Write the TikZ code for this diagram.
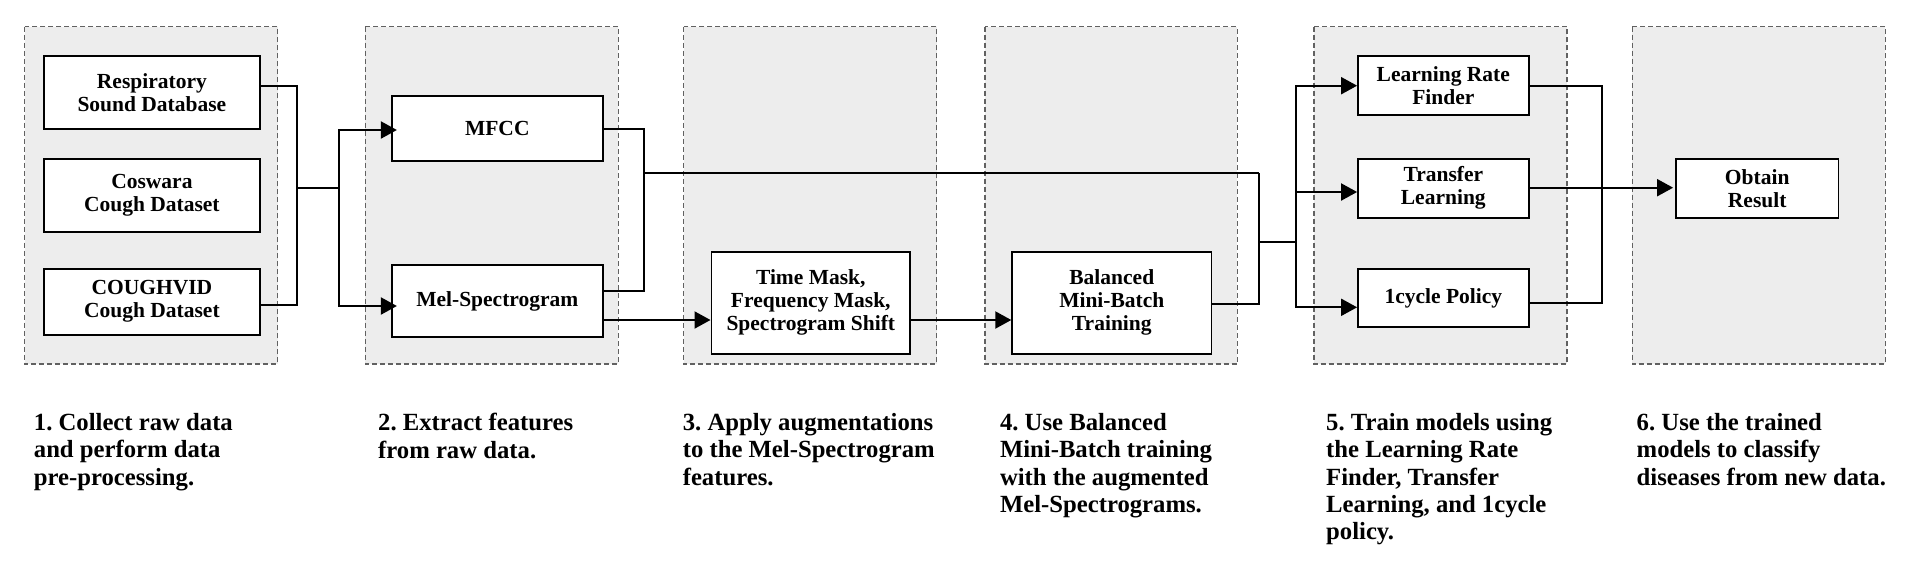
\documentclass[tikz,border=0pt]{standalone}
\usepackage{fontspec}
\setmainfont{Liberation Serif}
\usetikzlibrary{arrows.meta,calc}
\frenchspacing
\begin{document}
\begin{tikzpicture}[x=1pt,y=-1pt,
  panel/.style={draw=black!62, fill=black!7, dash pattern=on 5pt off 3pt, line width=1.2pt},
  box/.style={draw=black, fill=white, line width=1.8pt, font=\fontsize{21.5}{23}\selectfont\bfseries, align=center, inner sep=0pt},
  link/.style={line width=2pt},
  arr/.style={link, -{Triangle[length=16pt,width=17pt]}},
  captxt/.style={anchor=north west, align=left, font=\fontsize{24.7}{27.3}\selectfont\bfseries, inner sep=0pt}]
\useasboundingbox (0,0) rectangle (1920,574);
\fill[white] (0,0) rectangle (1920,574);
% panels
\path[panel] (24.5,26.7) rectangle (277.6,364);
\path[panel] (365.3,26.7) rectangle (618.4,364);
\path[panel] (683.7,26.7) rectangle (936.7,364);
\path[panel] (984.9,26.7) rectangle (1237.1,364);
\path[panel] (1313.9,26.7) rectangle (1566.9,364);
\path[panel] (1632.2,26.7) rectangle (1885.3,364);
% boxes
\node[box, minimum width=216.3pt, minimum height=73.3pt] (resp) at (151.9,92.7) {Respiratory\\Sound Database};
\node[box, minimum width=216.3pt, minimum height=73.3pt] (cosw) at (151.9,195.4) {Coswara\\Cough Dataset};
\node[box, minimum width=216.3pt, minimum height=66pt] (cough) at (151.9,301.7) {COUGHVID\\Cough Dataset};
\node[box, minimum width=211pt, minimum height=65.3pt] (mfcc) at (497.3,128.3) {MFCC};
\node[box, minimum width=211pt, minimum height=71.7pt] (mel) at (497.3,301.2) {Mel-Spectrogram};
\node[box, minimum width=198.8pt, minimum height=102.3pt] (tm) at (810.8,302.8) {Time Mask,\\Frequency Mask,\\Spectrogram Shift};
\node[box, minimum width=199.2pt, minimum height=102.3pt] (bal) at (1111.8,302.8) {Balanced\\Mini-Batch\\Training};
\node[box, minimum width=170.6pt, minimum height=59pt] (lrf) at (1443.3,85.5) {Learning Rate\\Finder};
\node[box, minimum width=170.6pt, minimum height=59pt] (tl) at (1443.3,188.2) {Transfer\\Learning};
\node[box, minimum width=170.6pt, minimum height=58.6pt] (cyc) at (1443.3,298) {1cycle Policy};
\node[box, minimum width=162.4pt, minimum height=59pt] (obt) at (1757.2,188.2) {Obtain\\Result};
% junction coordinates
\coordinate (a1) at (296.7,188.3);
\coordinate (a2) at (338.8,188.3);
\coordinate (b1) at (644,173.3);
\coordinate (b2) at (1259,173.3);
\coordinate (b3) at (1259,242.3);
\coordinate (c1) at (1295.5,242.3);
\coordinate (d1) at (1601.5,187.7);
% stage 1 -> 2
\draw[link] ([yshift=7pt]resp.east) -| (a1);
\draw[link] ([yshift=-3.6pt]cough.east) -| (a1);
\draw[link] (a1) -- (a2);
\draw[arr, shorten >=-6pt] (a2) |- ([yshift=-1.7pt]mfcc.west);
\draw[arr, shorten >=-6pt] (a2) |- ([yshift=-4.8pt]mel.west);
% stage 2 -> 3,4,5
\draw[link] ([yshift=-1pt]mfcc.east) -| (b1);
\draw[link] ([yshift=10.2pt]mel.east) -| (b1);
\draw[link] (b1) -- (b2);
\draw[arr] ([yshift=-18.8pt]mel.east) -- ([yshift=-17.2pt]tm.west);
\draw[arr] ([yshift=-17.2pt]tm.east) -- ([yshift=-17.2pt]bal.west);
\draw[link] ([yshift=-1.5pt]bal.east) -| (b2);
\draw[link] (b3) -- (c1);
\draw[arr] (c1) |- ([yshift=-0.2pt]lrf.west);
\draw[arr] (c1) |- ([yshift=-3.8pt]tl.west);
\draw[arr] (c1) |- ([yshift=-9.3pt]cyc.west);
% stage 5 -> 6
\draw[link] ([yshift=-0.5pt]lrf.east) -| (d1);
\draw[link] ([yshift=-5.3pt]cyc.east) -| (d1);
\draw[arr, shorten >=2pt] ([yshift=0.5pt]tl.east) -- ([yshift=0.5pt]obt.west);
% captions
\node[captxt] (t1) at (33.7,413.3) {1. Collect raw data\\and perform data\\pre-processing.};
\node[captxt] (t2) at (378,413.3) {2. Extract features\\from raw data.};
\node[captxt] (t3) at (682.6,413.3) {3. Apply augmentations\\to the Mel-Spectrogram\\features.};
\node[captxt] (t4) at (999.8,413.3) {4. Use Balanced\\Mini-Batch training\\with the augmented\\Mel-Spectrograms.};
\node[captxt] (t5) at (1326,413.3) {5. Train models using\\the Learning Rate\\Finder, Transfer\\Learning, and 1cycle\\policy.};
\node[captxt] (t6) at (1636.5,413.3) {6. Use the trained\\models to classify\\diseases from new data.};
\end{tikzpicture}
\end{document}
